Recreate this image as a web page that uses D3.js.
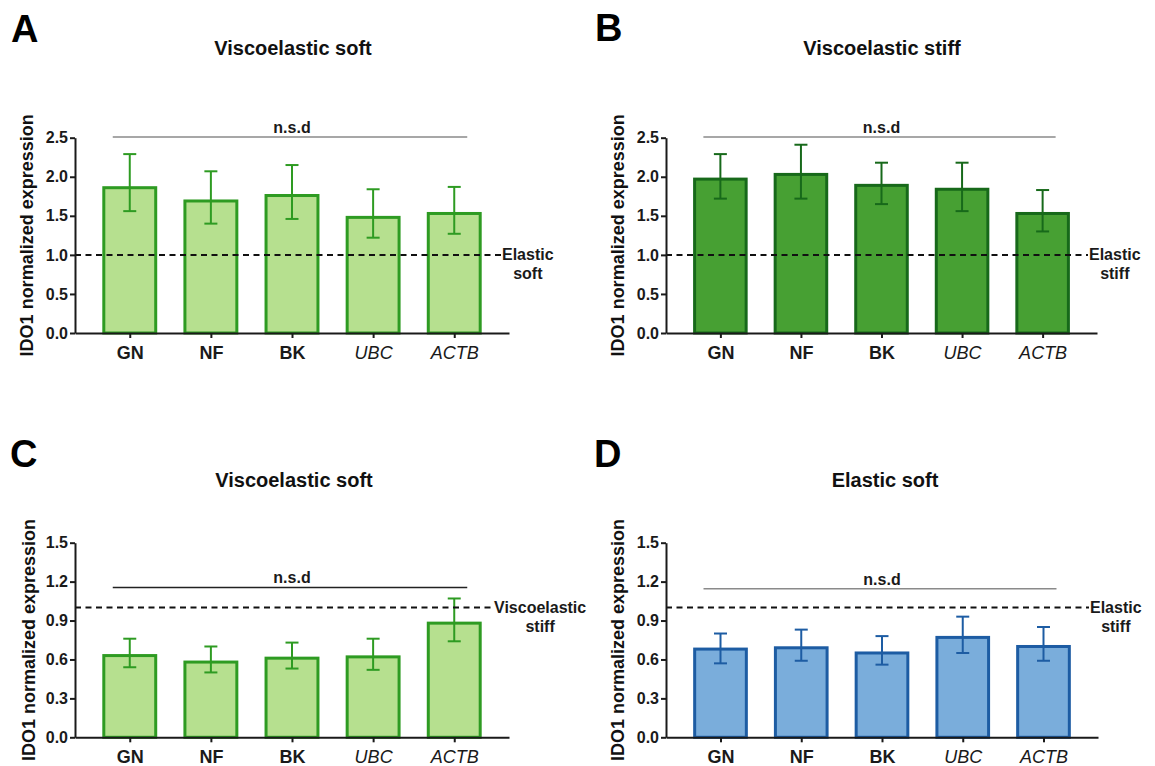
<!DOCTYPE html>
<html>
<head>
<meta charset="utf-8">
<script src="https://cdn.jsdelivr.net/npm/d3@7"></script>
<style>
  html, body { margin: 0; padding: 0; background: #fff; }
  svg { display: block; font-family: "Liberation Sans", Arial, sans-serif; }
</style>
</head>
<body>
<svg id="chart" width="1155" height="766"></svg>
<script>
// categories shared by all four panels
const categories = ['GN', 'NF', 'BK', 'UBC', 'ACTB']
const italicCats = ['UBC', 'ACTB']

// A: viscoelastic soft vs elastic soft
const meanA = [1.86, 1.69, 1.76, 1.48, 1.53]
const upperA = [2.29, 2.07, 2.15, 1.84, 1.87]
const lowerA = [1.56, 1.40, 1.46, 1.22, 1.27]
// B: viscoelastic stiff vs elastic stiff
const meanB = [1.97, 2.03, 1.89, 1.84, 1.53]
const upperB = [2.29, 2.41, 2.18, 2.18, 1.83]
const lowerB = [1.72, 1.72, 1.65, 1.56, 1.30]
// C: viscoelastic soft vs viscoelastic stiff
const meanC = [0.63, 0.58, 0.61, 0.62, 0.88]
const upperC = [0.76, 0.70, 0.73, 0.76, 1.07]
const lowerC = [0.54, 0.50, 0.53, 0.52, 0.74]
// D: elastic soft vs elastic stiff
const meanD = [0.68, 0.69, 0.65, 0.77, 0.70]
const upperD = [0.80, 0.83, 0.78, 0.93, 0.85]
const lowerD = [0.57, 0.59, 0.56, 0.65, 0.59]

const ticksTop = [0, 0.5, 1.0, 1.5, 2.0, 2.5]
const ticksBottom = [0, 0.3, 0.6, 0.9, 1.2, 1.5]
const refLevel = 1.0
const nsdLevels = [2.51, 2.51, 1.155, 1.145]
const titles = ['Viscoelastic soft', 'Viscoelastic stiff', 'Viscoelastic soft', 'Elastic soft']
const letters = ['A', 'B', 'C', 'D']
const refLabels = [['Elastic', 'soft'], ['Elastic', 'stiff'], ['Viscoelastic', 'stiff'], ['Elastic', 'stiff']]
const yLabel = 'IDO1 normalized expression'

// layout + style per panel
const panels = [
  { mean: meanA, upper: upperA, lower: lowerA, ticks: ticksTop, x0: 75, x1: 509, y0: 333, y1: 137.7,
    letterX: 11, letterY: 42, titleX: 293, titleY: 55, labX: 27, refX: 502,
    fill: '#b6e08f', stroke: '#2e9b22', nsdColor: '#8a8a8a' },
  { mean: meanB, upper: upperB, lower: lowerB, ticks: ticksTop, x0: 666, x1: 1097, y0: 333, y1: 137.7,
    letterX: 595, letterY: 41, titleX: 882, titleY: 55, labX: 618, refX: 1089,
    fill: '#47a033', stroke: '#17691a', nsdColor: '#8a8a8a' },
  { mean: meanC, upper: upperC, lower: lowerC, ticks: ticksBottom, x0: 75, x1: 509, y0: 737.3, y1: 542.7,
    letterX: 10, letterY: 467, titleX: 294, titleY: 487, labX: 29, refX: 494,
    fill: '#b6e08f', stroke: '#2e9b22', nsdColor: '#222' },
  { mean: meanD, upper: upperD, lower: lowerD, ticks: ticksBottom, x0: 666, x1: 1098, y0: 737.3, y1: 542.7,
    letterX: 594, letterY: 467, titleX: 885, titleY: 487, labX: 618, refX: 1090,
    fill: '#7aaddb', stroke: '#1d5ca3', nsdColor: '#8a8a8a' },
]

const svg = d3.select('#chart')
const ink = '#1a1a1a'

panels.forEach((p, pi) => {
  const g = svg.append('g')
  const yMax = p.ticks[p.ticks.length - 1]
  const y = d3.scaleLinear().domain([0, yMax]).range([p.y0, p.y1])
  const x = d3.scalePoint().domain(categories).range([p.x0, p.x1]).padding(0.675)
  const barW = x.step() * 0.64

  // panel letter and title
  g.append('text')
    .attr('x', p.letterX).attr('y', p.letterY)
    .attr('font-size', 38).attr('font-weight', 'bold').attr('fill', '#000')
    .text(letters[pi])
  g.append('text')
    .attr('x', p.titleX).attr('y', p.titleY)
    .attr('text-anchor', 'middle')
    .attr('font-size', 20).attr('font-weight', 'bold').attr('fill', '#111')
    .text(titles[pi])

  // y label
  g.append('text')
    .attr('transform', `translate(${p.labX},${(p.y0 + p.y1) / 2}) rotate(-90)`)
    .attr('text-anchor', 'middle').attr('dy', '0.35em')
    .attr('font-size', 18).attr('font-weight', 'bold').attr('fill', '#111')
    .text(yLabel)

  // bars
  g.selectAll('rect.bar')
    .data(p.mean)
    .join('rect')
    .attr('class', 'bar')
    .attr('x', (d, i) => x(categories[i]) - barW / 2)
    .attr('width', barW)
    .attr('y', d => y(d))
    .attr('height', d => y(0) - y(d))
    .attr('fill', p.fill)
    .attr('stroke', p.stroke)
    .attr('stroke-width', 3)

  // error bars
  const err = g.append('g')
    .attr('stroke', p.stroke).attr('stroke-width', 2).attr('fill', 'none')
  categories.forEach((c, i) => {
    const cx = x(c)
    err.append('line').attr('x1', cx).attr('x2', cx).attr('y1', y(p.lower[i])).attr('y2', y(p.upper[i]))
    err.append('line').attr('x1', cx - 6.5).attr('x2', cx + 6.5).attr('y1', y(p.upper[i])).attr('y2', y(p.upper[i]))
    err.append('line').attr('x1', cx - 6.5).attr('x2', cx + 6.5).attr('y1', y(p.lower[i])).attr('y2', y(p.lower[i]))
  })

  // reference dashed line + label
  g.append('line')
    .attr('x1', p.x0).attr('x2', p.refX - 1)
    .attr('y1', y(refLevel)).attr('y2', y(refLevel))
    .attr('stroke', '#111').attr('stroke-width', 2).attr('stroke-dasharray', '6,4.5')
  const ref1 = g.append('text')
    .attr('x', p.refX).attr('y', y(refLevel)).attr('dy', '0.35em')
    .attr('font-size', 16).attr('font-weight', 'bold').attr('fill', ink)
    .text(refLabels[pi][0])
  const w = ref1.node().getComputedTextLength()
  g.append('text')
    .attr('x', p.refX + w / 2).attr('y', y(refLevel) + 19).attr('dy', '0.35em')
    .attr('text-anchor', 'middle')
    .attr('font-size', 16).attr('font-weight', 'bold').attr('fill', ink)
    .text(refLabels[pi][1])

  // n.s.d bracket
  const ny = y(nsdLevels[pi])
  g.append('line')
    .attr('x1', x(categories[0]) - 17).attr('x2', x(categories[categories.length - 1]) + 13)
    .attr('y1', ny).attr('y2', ny)
    .attr('stroke', p.nsdColor).attr('stroke-width', 1.5)
  g.append('text')
    .attr('x', (x(categories[0]) + x(categories[categories.length - 1])) / 2)
    .attr('y', ny - 4)
    .attr('text-anchor', 'middle')
    .attr('font-size', 16).attr('font-weight', 'bold').attr('fill', ink)
    .text('n.s.d')

  // axes
  const yAxis = g.append('g')
    .attr('transform', `translate(${p.x0},0)`)
    .call(d3.axisLeft(y).tickValues(p.ticks).tickFormat(d3.format('.1f')).tickSize(5).tickSizeOuter(0).tickPadding(2))
  yAxis.select('.domain').attr('stroke', ink).attr('stroke-width', 2)
  yAxis.selectAll('.tick line').attr('stroke', ink).attr('stroke-width', 2)
  yAxis.selectAll('.tick text')
    .attr('font-size', 16).attr('font-weight', 'bold').attr('fill', ink)
    .attr('font-family', '"Liberation Sans", Arial, sans-serif')

  const xAxis = g.append('g')
    .attr('transform', `translate(0,${p.y0})`)
    .call(d3.axisBottom(x).tickSize(5).tickSizeOuter(0).tickPadding(8))
  xAxis.select('.domain').attr('stroke', ink).attr('stroke-width', 2)
  xAxis.selectAll('.tick line').attr('stroke', ink).attr('stroke-width', 2)
  xAxis.selectAll('.tick text')
    .attr('font-size', 18).attr('fill', ink)
    .attr('font-family', '"Liberation Sans", Arial, sans-serif')
    .attr('font-weight', d => italicCats.includes(d) ? 'normal' : 'bold')
    .attr('font-style', d => italicCats.includes(d) ? 'italic' : 'normal')
})
</script>
</body>
</html>
